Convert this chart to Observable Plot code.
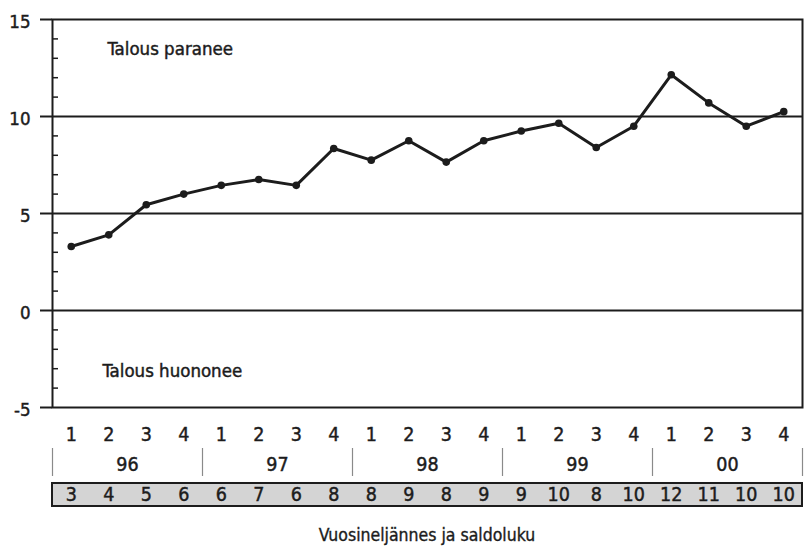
<!DOCTYPE html>
<html>
<head>
<meta charset="utf-8">
<script src="https://cdn.jsdelivr.net/npm/d3@7"></script>
<script src="https://cdn.jsdelivr.net/npm/@observablehq/plot@0.6"></script>
<style>
  body { margin: 0; background: #fff; }
  #chart { width: 804px; height: 547px; background: #fff; color: #1c1c1c;
           font-family: "Liberation Sans Narrow", "Arial Narrow", "DejaVu Sans Condensed", sans-serif; }
  #chart svg { display: block; }
  #chart svg text { paint-order: stroke; stroke: #1c1c1c; stroke-width: 0.45px; }
  .caption { box-sizing: border-box; width: 804px; height: 39px; padding: 16px 2px 0 52px;
             text-align: center; font-size: 17.5px; line-height: 22px;
             -webkit-text-stroke: 0.35px #1c1c1c; }
</style>
</head>
<body>
<div id="chart"></div>
<script>
// Quarterly balance figure (saldoluku) of the economic outlook, 1996–2000
const quarters = ["1","2","3","4","1","2","3","4","1","2","3","4","1","2","3","4","1","2","3","4"];
const years = ["96","97","98","99","00"];
const balance = [3.3, 3.9, 5.45, 6.0, 6.45, 6.75, 6.45, 8.35, 7.75, 8.75,
                 7.65, 8.75, 9.25, 9.65, 8.4, 9.5, 12.15, 10.7, 9.5, 10.25];
const balanceLabels = ["3","4","5","6","6","7","6","8","8","9",
                       "8","9","9","10","8","10","12","11","10","10"];
const yTicks = [-5, 0, 5, 10, 15];
const gridValues = [0, 5, 10];
const minorTicks = [-4, -3, -2, -1, 1, 2, 3, 4, 6, 7, 8, 9, 11, 12, 13, 14];

const FONT = '"Liberation Sans Narrow", "Arial Narrow", "DejaVu Sans Condensed", sans-serif';
const INK = "#1c1c1c";
const xDomain = [-0.5, quarters.length - 0.5];

const rows = balance.map((v, i) => ({i, v, q: quarters[i], label: balanceLabels[i]}));
const yearBounds = years.map((_, k) => k * 4 - 0.5).concat([xDomain[1]]);

const main = Plot.plot({
  width: 804,
  height: 420,
  marginTop: 19,
  marginBottom: 13,
  marginLeft: 52,
  marginRight: 2,
  style: {fontFamily: FONT, color: INK, background: "white", overflow: "visible"},
  x: {domain: xDomain, axis: null},
  y: {domain: [-5, 15], label: null},
  marks: [
    Plot.ruleY(gridValues, {stroke: INK, strokeWidth: 2}),
    Plot.tickY(minorTicks, {y: d => d, stroke: INK, strokeWidth: 1.5, insetRight: 744}),
    Plot.frame({stroke: INK, strokeWidth: 2}),
    Plot.axisY(yTicks, {tickSize: 12, strokeWidth: 2, fill: "none", label: null}),
    Plot.axisY(yTicks, {tickSize: 12, tickPadding: 10, stroke: "none", dy: 2.5,
                        fontSize: 18.5, tickFormat: d => String(d), label: null}),
    Plot.line(rows, {x: "i", y: "v", stroke: INK, strokeWidth: 3, strokeLinejoin: "round"}),
    Plot.dot(rows, {x: "i", y: "v", r: 3.8, fill: INK, stroke: "none"}),
    Plot.text(["Talous paranee"], {frameAnchor: "top-left", textAnchor: "start",
                                   dx: 55, dy: 22, fontSize: 18.5, fill: INK}),
    Plot.text(["Talous huononee"], {frameAnchor: "bottom-left", textAnchor: "start",
                                    dx: 50, dy: -31, fontSize: 18.5, fill: INK})
  ]
});

const table = Plot.plot({
  width: 804,
  height: 88,
  marginTop: 0,
  marginBottom: 0,
  marginLeft: 52,
  marginRight: 2,
  style: {fontFamily: FONT, color: INK, background: "white", overflow: "visible"},
  x: {domain: xDomain, axis: null},
  y: {type: "band", domain: ["quarter", "year", "balance"], range: [3, 86],
      paddingInner: 0.233, paddingOuter: 0, round: false, axis: null},
  marks: [
    Plot.barX(["balance"], {x1: xDomain[0], x2: xDomain[1], y: d => d,
                            fill: "#d4d4d4", stroke: INK, strokeWidth: 2}),
    Plot.tickX(yearBounds, {x: d => d, y: () => "year", insetTop: -5,
                            stroke: "#8a8a8a", strokeWidth: 1.2}),
    Plot.text(rows, {x: "i", y: () => "quarter", text: "q", fontSize: 19.5, fill: INK}),
    Plot.text(years, {x: (d, k) => k * 4 + 1.5, y: () => "year", text: d => d, fontSize: 19.5, fill: INK}),
    Plot.text(rows, {x: "i", y: () => "balance", text: "label", fontSize: 19.5, fill: INK})
  ]
});

const chart = document.getElementById("chart");
chart.append(main, table);
const caption = document.createElement("div");
caption.className = "caption";
caption.textContent = "Vuosineljännes ja saldoluku";
chart.append(caption);
</script>
</body>
</html>
